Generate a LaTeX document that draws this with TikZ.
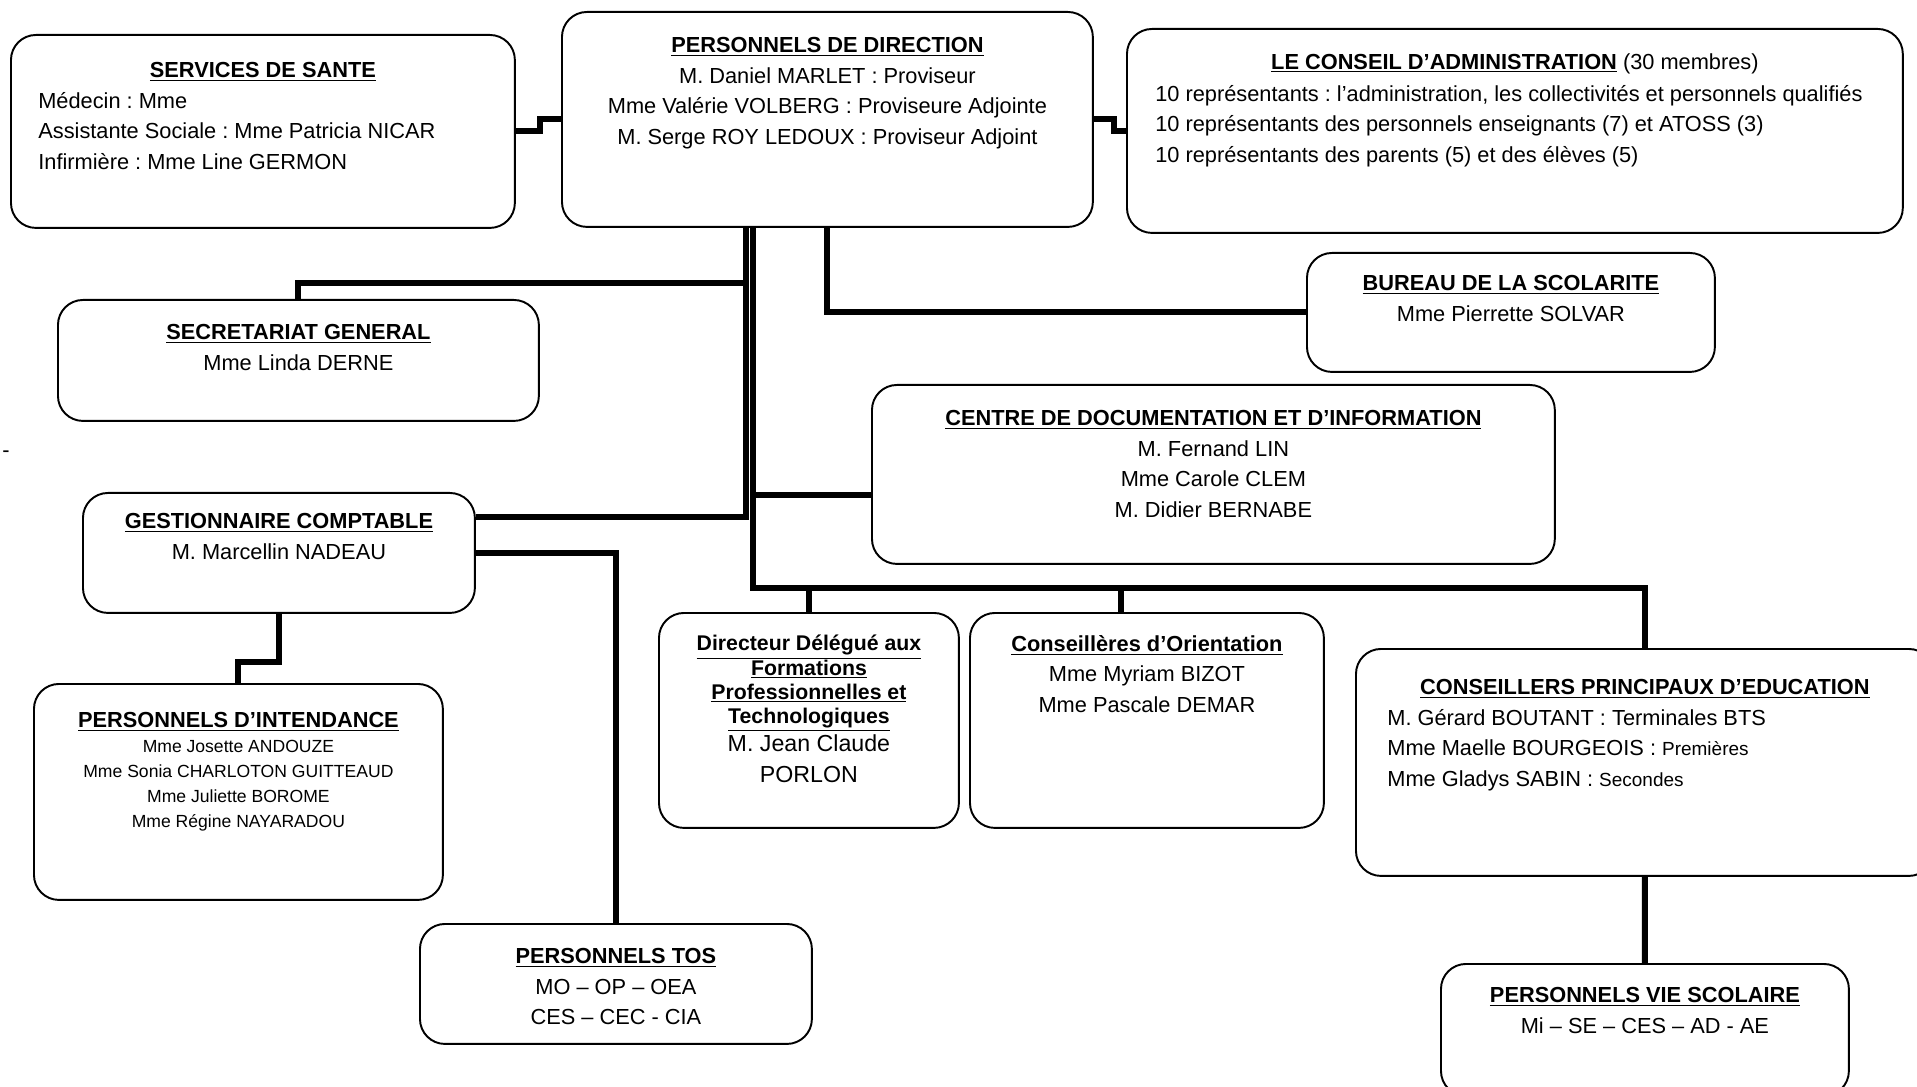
\documentclass[tikz,border=0pt]{standalone}
\usepackage{fontspec}
\setmainfont{Liberation Sans}
\usepackage{tikz}
\usetikzlibrary{positioning}
\frenchspacing
\newcommand{\boxtitle}[1]{\textbf{\underline{#1}}}
\tikzstyle{unit} = [draw, line width=1.1pt, rounded corners=0.5cm, anchor=north west, inner sep=0pt]
\tikzset{link/.style={line width=3.4pt},
    body/.style={font=\fontsize{12.4}{17.4}\selectfont, inner sep=0pt, align=center}}

\begin{document}
\begin{tikzpicture}[x=0.02cm, y=-0.02cm]
    \useasboundingbox (0,0) rectangle (1917,1087);
    % Definition of boxes
    \node[unit, minimum width=10.08cm, minimum height=3.86cm] (sante) at (10,34) {};
    \node[unit, minimum width=10.62cm, minimum height=4.30cm] (direction) at (561,11) {};
    \node[unit, minimum width=15.52cm, minimum height=4.08cm] (conseil) at (1126,28) {};
    \node[unit, minimum width=9.62cm, minimum height=2.42cm] (secretariat) at (57,299) {};
    \node[unit, minimum width=8.16cm, minimum height=2.38cm] (scolarite) at (1306,252) {};
    \node[unit, minimum width=13.66cm, minimum height=3.58cm] (cdi) at (871,384) {};
    \node[unit, minimum width=7.84cm, minimum height=2.40cm] (gestion) at (82,492) {};
    \node[unit, minimum width=8.18cm, minimum height=4.32cm] (intendance) at (33,683) {};
    \node[unit, minimum width=6.00cm, minimum height=4.30cm] (ddfpt) at (658,612) {};
    \node[unit, minimum width=7.08cm, minimum height=4.30cm] (orientation) at (969,612) {};
    \node[unit, minimum width=11.56cm, minimum height=4.54cm] (cpe) at (1355,648) {};
    \node[unit, minimum width=7.84cm, minimum height=2.40cm] (tos) at (419,923) {};
    \node[unit, minimum width=8.16cm, minimum height=2.64cm] (viesco) at (1440,963) {};
    %
    % Texts
    \node[body, below=0.56cm of sante.north] (sante-head) {\boxtitle{SERVICES DE SANTE}};
    \node[body, align=left, below right=1.16cm and 0.56cm of sante.north west] (sante-body)
        {Médecin : Mme\\ Assistante Sociale : Mme Patricia NICAR\\ Infirmière : Mme Line GERMON};
    \node[body, below=0.52cm of direction.north] (direction-txt)
        {\boxtitle{PERSONNELS DE DIRECTION}\\ M. Daniel MARLET : Proviseur\\
         Mme Valérie VOLBERG : Proviseure Adjointe\\ M. Serge ROY LEDOUX : Proviseur Adjoint};
    \node[body, below=0.5cm of conseil.north] (conseil-head)
        {\boxtitle{LE CONSEIL D’ADMINISTRATION} (30 membres)};
    \node[body, align=left, below right=1.14cm and 0.58cm of conseil.north west] (conseil-body)
        {10 représentants : l’administration, les collectivités et personnels qualifiés\\
         10 représentants des personnels enseignants (7) et ATOSS (3)\\
         10 représentants des parents (5) et des élèves (5)};
    \node[body, below=0.5cm of secretariat.north] (secretariat-txt)
        {\boxtitle{SECRETARIAT GENERAL}\\ Mme Linda DERNE};
    \node[body, below=0.46cm of scolarite.north] (scolarite-txt)
        {\boxtitle{BUREAU DE LA SCOLARITE}\\ Mme Pierrette SOLVAR};
    \node[body, below=0.52cm of cdi.north] (cdi-txt)
        {\boxtitle{CENTRE DE DOCUMENTATION ET D’INFORMATION}\\ M. Fernand LIN\\ Mme Carole CLEM\\ M. Didier BERNABE};
    \node[body, below=0.42cm of gestion.north] (gestion-txt)
        {\boxtitle{GESTIONNAIRE COMPTABLE}\\ M. Marcellin NADEAU};
    \node[body, below=0.58cm of intendance.north] (intendance-head) {\boxtitle{PERSONNELS D’INTENDANCE}};
    \node[body, font=\fontsize{10}{14.2}\selectfont, below=1.14cm of intendance.north] (intendance-body)
        {Mme Josette ANDOUZE\\ Mme Sonia CHARLOTON GUITTEAUD\\ Mme Juliette BOROME\\ Mme Régine NAYARADOU};
    \node[body, font=\bfseries\fontsize{12.1}{13.7}\selectfont, below=0.46cm of ddfpt.north] (ddfpt-head)
        {\underline{Directeur Délégué aux}\\ \underline{Formations}\\ \underline{Professionnelles et}\\ \underline{Technologiques}};
    \node[body, font=\fontsize{13.2}{17.6}\selectfont, below=2.44cm of ddfpt.north] (ddfpt-body)
        {M. Jean Claude\\ PORLON};
    \node[body, below=0.46cm of orientation.north] (orientation-txt)
        {\boxtitle{Conseillères d’Orientation}\\ Mme Myriam BIZOT\\ Mme Pascale DEMAR};
    \node[body, below=0.62cm of cpe.north] (cpe-head) {\boxtitle{CONSEILLERS PRINCIPAUX D’EDUCATION}};
    \node[body, align=left, below right=1.22cm and 0.64cm of cpe.north west] (cpe-body)
        {M. Gérard BOUTANT : Terminales BTS\\
         Mme Maelle BOURGEOIS : {\fontsize{10.8}{17.4}\selectfont Premières}\\
         Mme Gladys SABIN : {\fontsize{10.8}{17.4}\selectfont Secondes}};
    \node[body, below=0.5cm of tos.north] (tos-txt)
        {\boxtitle{PERSONNELS TOS}\\ MO – OP – OEA\\ CES – CEC - CIA};
    \node[body, below=0.48cm of viesco.north] (viesco-txt)
        {\boxtitle{PERSONNELS VIE SCOLAIRE}\\ Mi – SE – CES – AD - AE};
    \node[body] (dash) at (6,454) {-};
    %
    % Links
    \coordinate (trunkL) at ([shift={(-81,0)}]direction.south);
    \coordinate (trunkR) at ([shift={(-74,0)}]direction.south);
    \coordinate (bus) at ([shift={(0,-60)}]cpe.north);
    \coordinate (cdiin) at ([shift={(0,21)}]cdi.west);
    \coordinate (gestout) at ([shift={(0,-36)}]gestion.east);
    \draw[link] (sante.east) -- ++(24,0) |- (direction.west);
    \draw[link] (direction.east) -- ++(20,0) |- (conseil.west);
    \draw[link] (direction.south) |- (scolarite.west);
    \draw[link] (secretariat.north) -- ++(0,-16) -| (trunkL);
    \draw[link] (gestout) -| (trunkL);
    \draw[link] (cpe.north) -- (bus) -| (trunkR);
    \draw[link] (cdiin) -- (cdiin -| trunkR);
    \draw[link] (ddfpt.north) -- (ddfpt.north |- bus);
    \draw[link] ([shift={(-26,0)}]orientation.north) -- ++(0,-24);
    \draw[link] (gestion.east) -| (tos.north);
    \draw[link] (gestion.south) -- ++(0,48) -| (intendance.north);
    \draw[link] (cpe.south) -- (viesco.north);
\end{tikzpicture}
\end{document}
